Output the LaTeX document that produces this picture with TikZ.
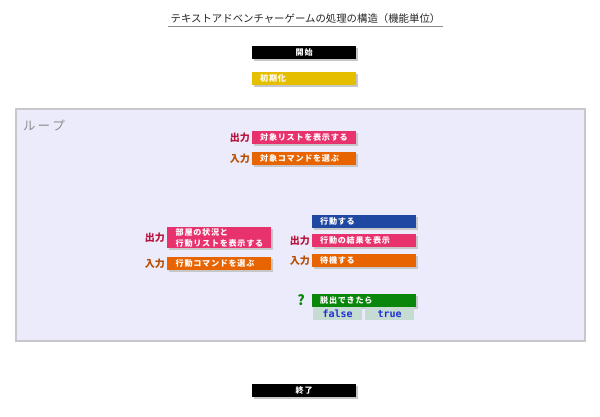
\documentclass[tikz,border=0pt]{standalone}
\usepackage{fontspec}
\usepackage{xcolor}
\setmainfont{Noto Sans CJK JP}
\newfontfamily\boxfont[LetterSpace=9]{Noto Sans CJK JP}
\newfontfamily\codefont{DejaVu Sans Mono}
\usetikzlibrary{shadows, positioning}

\definecolor{barpink}{HTML}{E8326E}
\definecolor{barorange}{HTML}{E86400}
\definecolor{barblue}{HTML}{1F48A2}
\definecolor{bargreen}{HTML}{0A860A}
\definecolor{baryellow}{HTML}{E6BE00}
\definecolor{loopfill}{HTML}{EBEBFB}
\definecolor{loopline}{HTML}{C8C8CC}
\definecolor{branchfill}{HTML}{C6DCD2}
\definecolor{branchtext}{HTML}{1E32D2}
\definecolor{outcol}{HTML}{B8143C}
\definecolor{incol}{HTML}{B84C00}

\tikzset{
  bar/.style={anchor=north west, minimum width=104pt, minimum height=13pt,
    inner xsep=8pt, inner ysep=1pt, text width=88pt, align=left,
    text=white, font=\boxfont\bfseries\fontsize{8.1}{10.5}\selectfont,
    drop shadow={shadow xshift=2pt, shadow yshift=-2pt, fill=black!22, opacity=1}},
  endbar/.style={bar, fill=black, align=center},
  branch/.style={anchor=north west, minimum width=49pt, minimum height=13pt,
    inner sep=0pt, fill=branchfill, text=branchtext,
    font=\codefont\bfseries\fontsize{10}{10}\selectfont},
  tag/.style={anchor=east, inner sep=0pt, font=\bfseries\fontsize{10}{10}\selectfont}
}

\begin{document}
\begin{tikzpicture}[x=1pt, y=-1pt]
  \useasboundingbox[fill=white] (0,0) rectangle (600,417);

  % title
  \node[inner xsep=2.5pt, inner ysep=2pt, font=\fontsize{10.4}{12}\selectfont, text=black!85] (title) at (305.5,19) {テキストアドベンチャーゲームの処理の構造（機能単位）};
  \draw[black!45, line width=0.8pt] (title.south west) -- (title.south east);

  \node[endbar] (start) at (252,46) {開始};
  \node[bar, fill=baryellow] (init) at (252,72) {初期化};

  % loop frame
  \draw[loopline, line width=1.5pt, fill=loopfill] (16,109) rectangle (585,341);
  \node[font=\fontsize{12.5}{14}\selectfont, text=black!45] (looplabel) at (44,126) {ル\,ー\,プ};

  \node[bar, fill=barpink] (objlist) at (252,131) {対象リストを表示する};
  \node[bar, fill=barorange] (objcmd) at (252,152) {対象コマンドを選ぶ};
  \node[tag, text=outcol] (objlist tag) at ([xshift=-2pt]objlist.west) {出力};
  \node[tag, text=incol] (objcmd tag) at ([xshift=-2pt]objcmd.west) {入力};

  \node[bar, fill=barpink, minimum height=21pt, text width=87pt, inner ysep=0.5pt] (room) at (167,227) {部屋の状況と\\行動リストを表示する};
  \node[bar, fill=barorange, text width=87pt] (actcmd) at (167,257) {行動コマンドを選ぶ};
  \node[tag, text=outcol] (room tag) at ([xshift=-2pt]room.west) {出力};
  \node[tag, text=incol] (actcmd tag) at ([xshift=-2pt]actcmd.west) {入力};

  \node[bar, fill=barblue] (act) at (312,215) {行動する};
  \node[bar, fill=barpink] (result) at (312,234) {行動の結果を表示};
  \node[bar, fill=barorange] (wait) at (312,254) {待機する};
  \node[tag, text=outcol] (result tag) at ([xshift=-2pt]result.west) {出力};
  \node[tag, text=incol] (wait tag) at ([xshift=-2pt]wait.west) {入力};

  \node[bar, fill=bargreen] (escape) at (312,294) {脱出できたら};
  \node[tag, text=bargreen, font=\bfseries\fontsize{14}{14}\selectfont] (escape tag) at ([xshift=-7pt, yshift=0.5pt]escape.west) {?};
  \node[branch] (false) at (313,307) {false};
  \node[branch] (true) at (365,307) {true};

  \node[endbar] (end) at (252,384) {終了};
\end{tikzpicture}
\end{document}
